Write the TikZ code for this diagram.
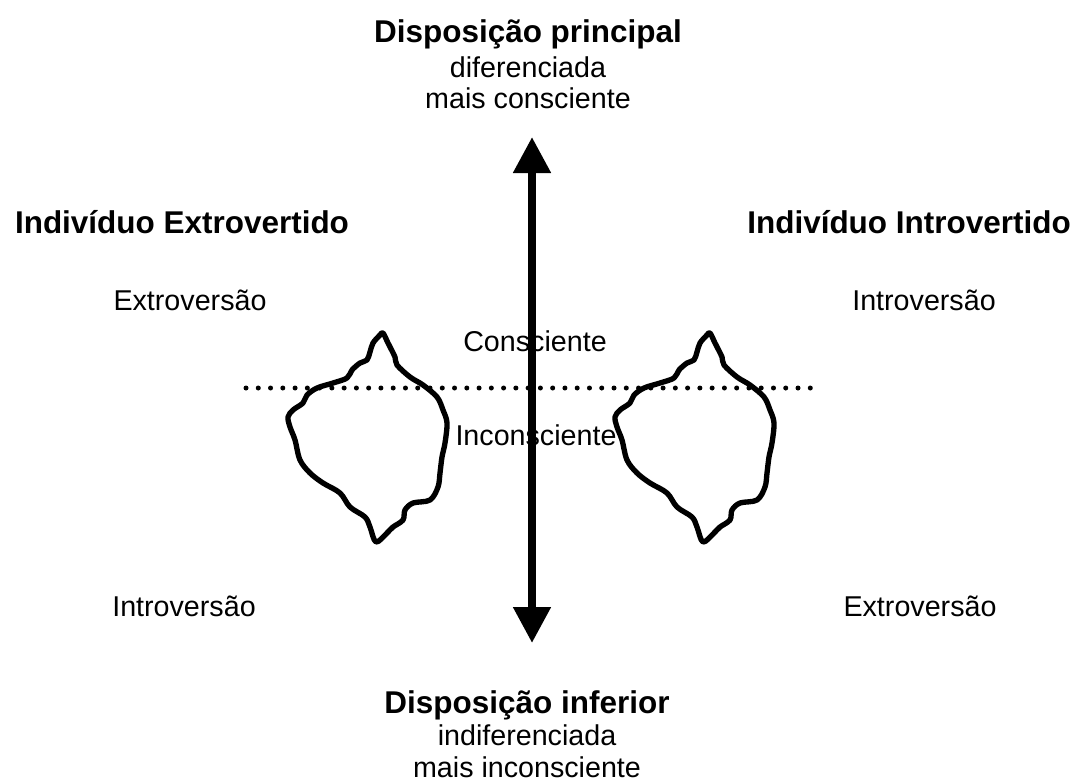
\documentclass[tikz,border=0pt]{standalone}
\usepackage{fontspec}
\setmainfont{Liberation Sans}
\usetikzlibrary{arrows.meta}

\tikzset{
  rotulo/.style={font=\fontsize{21.5}{25}\selectfont, inner sep=0pt, anchor=base},
  titulo/.style={font=\bfseries\fontsize{23.6}{28}\selectfont, inner sep=0pt, anchor=base},
  bolha/.style={line width=4pt, line join=round, smooth cycle, tension=0.55},
}

\begin{document}
\begin{tikzpicture}[x=0.75pt,y=-0.75pt]
          %page
          \useasboundingbox (0,0) rectangle (1077,782);

          %top and bottom
          \node[titulo] (princ) at (528,42) {Disposição principal};
          \node[rotulo] (dif) at (528,77) {diferenciada};
          \node[rotulo] (maiscons) at (528,108) {mais consciente};
          \node[titulo] (infer) at (527,713) {Disposição inferior};
          \node[rotulo] (indif) at (527,745) {indiferenciada};
          \node[rotulo] (maisincons) at (527,777) {mais inconsciente};

          %the two types
          \node[titulo] (extro) at (182,233) {Indivíduo Extrovertido};
          \node[titulo] (intro) at (909,233) {Indivíduo Introvertido};
          \node[rotulo] (extrocima) at (190,310) {Extroversão};
          \node[rotulo] (introcima) at (924,310) {Introversão};
          \node[rotulo] (introbaixo) at (184,616) {Introversão};
          \node[rotulo] (extrobaixo) at (920,616) {Extroversão};

          %conscious and unconscious
          \node[rotulo] (cons) at (535,351) {Consciente};
          \node[rotulo] (incons) at (536,445) {Inconsciente};

          %threshold
          \coordinate (limesq) at (246,388);
          \coordinate (limdir) at (820,388);
          \draw[line width=3.75pt, line cap=round, dash pattern=on 0pt off 9.2pt] (limesq) -- (limdir);

          %icebergs
          \foreach \dx in {0,327}
            \draw[bolha, shift={(\dx,0)}] plot coordinates {
              (383,333) (388,343) (395,357) (397,365) (410,377) (423,385) (437,397)
              (443,410) (447,423) (445,443) (442,457) (440,473) (438,487) (430,500)
              (413,503) (405,510) (403,520) (393,527) (387,533) (376,542)
              (370,527) (365,517) (350,507) (340,493) (323,483) (310,473) (300,460)
              (295,440) (290,427) (288,417) (293,410) (303,403) (307,395) (317,388)
              (333,383) (347,378) (352,370) (360,363) (367,360) (370,352) (373,343)
              (380,335)};

          %axis
          \coordinate (topo) at (532,137);
          \coordinate (base) at (532,643);
          \draw[line width=6pt, {Triangle[length=27pt,width=27pt]}-{Triangle[length=27pt,width=27pt]}] (base) -- (topo);
\end{tikzpicture}
\end{document}
